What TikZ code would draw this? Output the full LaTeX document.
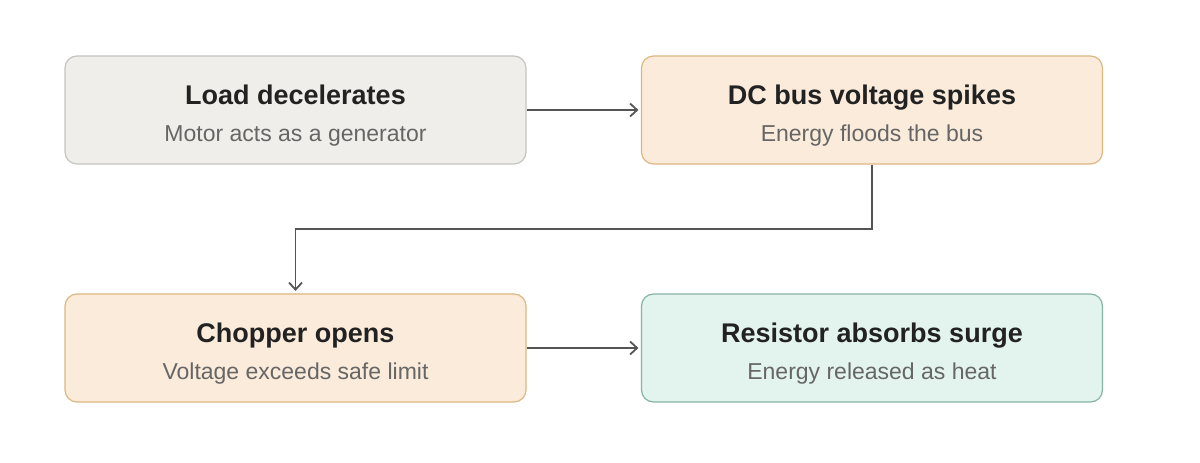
\documentclass[tikz,border=0pt]{standalone}
\usepackage{fontspec}
\setmainfont{Liberation Sans}
\usetikzlibrary{arrows.meta}
\definecolor{grayfill}{HTML}{EFEEEA}
\definecolor{grayline}{HTML}{C4C4C0}
\definecolor{orfill}{HTML}{FAEBDA}
\definecolor{orline}{HTML}{DDB882}
\definecolor{grfill}{HTML}{E3F3EE}
\definecolor{grline}{HTML}{86B5A3}
\definecolor{titlec}{HTML}{222222}
\definecolor{subc}{HTML}{666666}
\definecolor{arrowc}{HTML}{555555}
\begin{document}
\begin{tikzpicture}[x=1pt,y=1pt,
  card/.style={rectangle, rounded corners=12pt, minimum width=461pt, minimum height=108pt, line width=1.2pt, inner sep=0pt},
  graycard/.style={card, draw=grayline, fill=grayfill},
  orcard/.style={card, draw=orline, fill=orfill},
  grcard/.style={card, draw=grline, fill=grfill},
  ttl/.style={anchor=base, font=\fontsize{27}{30}\selectfont\bfseries, text=titlec, inner sep=0pt},
  sub/.style={anchor=base, font=\fontsize{23}{26}\selectfont, text=subc, inner sep=0pt},
  conn/.style={draw=arrowc, line width=1.8pt, shorten >=2.5pt, -{Straight Barb[length=7pt,width=13pt,line width=1.8pt]}}
]
\useasboundingbox[fill=white] (0,0) rectangle (1200,463);
\node[graycard] (b1) at (295.5,353) {};
\node[orcard] (b2) at (872,353) {};
\node[orcard] (b3) at (295.5,115) {};
\node[grcard] (b4) at (872,115) {};
\node[ttl] (t1) at (295.5,358) {Load decelerates};
\node[sub] (s1) at (295.5,321) {Motor acts as a generator};
\node[ttl] (t2) at (872,358) {DC bus voltage spikes};
\node[sub] (s2) at (872,321) {Energy floods the bus};
\node[ttl] (t3) at (295.5,120) {Chopper opens};
\node[sub] (s3) at (295.5,83) {Voltage exceeds safe limit};
\node[ttl] (t4) at (872,120) {Resistor absorbs surge};
\node[sub] (s4) at (872,83) {Energy released as heat};
\coordinate (mid) at (0,234);
\draw[conn] (b1.east) -- (b2.west);
\draw[conn] (b2.south) -- (b2.south |- mid) -| (b3.north);
\draw[conn] (b3.east) -- (b4.west);
\end{tikzpicture}
\end{document}
